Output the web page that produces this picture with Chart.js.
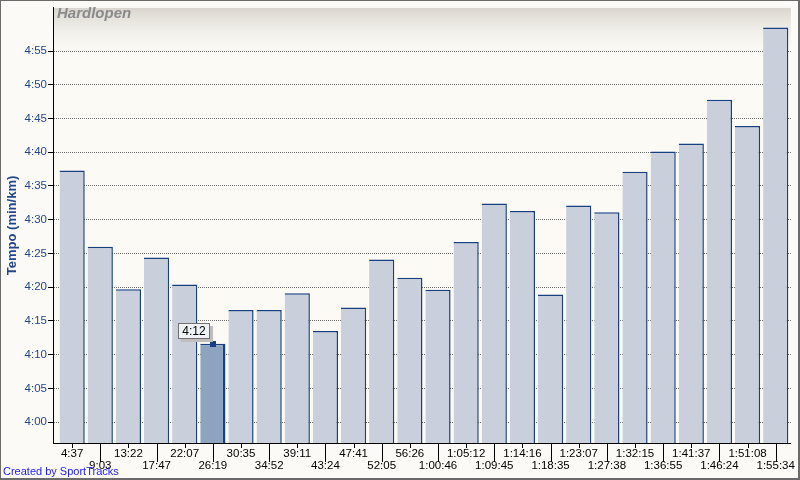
<!DOCTYPE html>
<html>
<head>
<meta charset="utf-8">
<script src="https://cdn.jsdelivr.net/npm/chart.js@4"></script>
<style>
  html, body { margin: 0; padding: 0; background: #fbfaf6; }
  #wrap { position: relative; width: 800px; height: 480px; }
</style>
</head>
<body>
<div id="wrap"><canvas id="pace-chart" width="800" height="480"></canvas></div>
<script>
// elapsed time at the end of each split (x axis labels)
const splitTimes = [
  "4:37", "9:03", "13:22", "17:47", "22:07", "26:19", "30:35", "34:52",
  "39:11", "43:24", "47:41", "52:05", "56:26", "1:00:46", "1:05:12", "1:09:45",
  "1:14:16", "1:18:35", "1:23:07", "1:27:38", "1:32:15", "1:36:55", "1:41:37",
  "1:46:24", "1:51:08", "1:55:34",
];
// pace per split, seconds per km
const paceSeconds = [
  277.3, 266.0, 259.7, 264.4, 260.4, 251.6, 256.6, 256.6, 259.1, 253.5,
  257.0, 264.1, 261.4, 259.6, 266.7, 272.4, 271.3, 258.9, 272.1, 271.1,
  277.1, 280.1, 281.3, 287.8, 283.9, 298.5,
];
// y axis ticks, seconds per km (4:00 .. 4:55)
const paceTicks = [240, 245, 250, 255, 260, 265, 270, 275, 280, 285, 290, 295];
const highlightIndex = 5;

const blue = "#173f82";
const labelBlue = "#23468a";

function fmtPace(s) {
  const m = Math.floor(s / 60);
  const sec = Math.round(s - m * 60);
  return m + ":" + String(sec).padStart(2, "0");
}

const framePlugin = {
  id: "frame",
  beforeDraw(chart) {
    const { ctx, chartArea: a } = chart;
    ctx.save();
    ctx.fillStyle = "#fbfaf6";
    ctx.fillRect(0, 0, chart.width, chart.height);
    ctx.fillStyle = "#fbfaf5";
    ctx.fillRect(a.left, a.top, a.right - a.left, a.bottom - a.top);
    const g = ctx.createLinearGradient(0, a.top, 0, a.top + 52);
    g.addColorStop(0, "#d9d5ce");
    g.addColorStop(1, "rgba(251,250,245,0)");
    ctx.fillStyle = g;
    ctx.fillRect(a.left, a.top, a.right - a.left, 52);
    ctx.restore();
  },
  afterDatasetsDraw(chart) {
    const { ctx, chartArea: a } = chart;
    ctx.save();
    ctx.fillStyle = "#8a8a8a";
    ctx.font = "italic bold 15px 'Liberation Sans', Arial, sans-serif";
    ctx.textBaseline = "alphabetic";
    ctx.fillText("Hardlopen", a.left + 4, 18);

    // highlighted split marker + label
    const bar = chart.getDatasetMeta(0).data[highlightIndex];
    const bx = Math.round(bar.x), by = Math.round(bar.y);
    ctx.fillStyle = blue;
    ctx.fillRect(bx - 3, by - 3, 6, 6);
    const w = 32, h = 16;
    const left = bx - 35, top = by - 21;
    ctx.fillStyle = "#bdbdbd";
    ctx.fillRect(left + 3, top + 3, w, h);
    ctx.fillStyle = "#eff3f6";
    ctx.fillRect(left, top, w, h);
    ctx.strokeStyle = "#707070";
    ctx.lineWidth = 1;
    ctx.strokeRect(left + 0.5, top + 0.5, w - 1, h - 1);
    ctx.fillStyle = "#000";
    ctx.font = "12px 'Liberation Sans', Arial, sans-serif";
    ctx.textAlign = "center";
    ctx.textBaseline = "middle";
    ctx.fillText(fmtPace(paceSeconds[highlightIndex]), left + w / 2, top + h / 2 + 1);
    ctx.restore();
  },
  afterDraw(chart) {
    const { ctx, chartArea: a } = chart;
    const xs = chart.scales.x;
    ctx.save();
    // x tick marks, long ones for the second label row
    ctx.strokeStyle = "#000";
    ctx.lineWidth = 1;
    ctx.beginPath();
    splitTimes.forEach((t, i) => {
      const x = Math.round(xs.getPixelForValue(i + 1)) + 0.5;
      ctx.moveTo(x, a.bottom);
      ctx.lineTo(x, a.bottom + (i % 2 ? 19 : 5));
    });
    ctx.stroke();

    ctx.fillStyle = "#1a1aff";
    ctx.font = "11px 'Liberation Sans', Arial, sans-serif";
    ctx.textBaseline = "middle";
    ctx.fillText("Created by SportTracks", 3, 472);

    // window frame
    ctx.fillStyle = "#6b6b6b";
    ctx.fillRect(0, 0, chart.width, 1);
    ctx.fillRect(0, 0, 1, chart.height);
    ctx.fillRect(chart.width - 2, 0, 2, chart.height);
    ctx.fillRect(0, chart.height - 2, chart.width, 2);
    ctx.restore();
  },
};

const ctx = document.getElementById("pace-chart").getContext("2d");
new Chart(ctx, {
  type: "bar",
  data: {
    datasets: [
      {
        label: "Tempo",
        data: paceSeconds.map((v, i) => ({ x: i + 1, y: v })),
        backgroundColor: paceSeconds.map((v, i) => (i === highlightIndex ? "#8ea3bf" : "#c9cfdb")),
        borderColor: blue,
        borderWidth: (c) =>
          c.dataIndex === highlightIndex
            ? { top: 1.5, right: 2.5, left: 0, bottom: 0 }
            : { top: 1.5, right: 1.5, left: 0, bottom: 0 },
        borderSkipped: "bottom",
        barPercentage: 0.895,
        categoryPercentage: 1,
      },
    ],
  },
  options: {
    responsive: false,
    animation: false,
    events: [],
    layout: { padding: { top: 5, right: 5, left: 0, bottom: 0 } },
    plugins: { legend: { display: false }, tooltip: { enabled: false } },
    scales: {
      x: {
        type: "linear",
        offset: false,
        min: 0.32,
        max: 26.54,
        afterBuildTicks: (scale) => {
          scale.ticks = splitTimes.map((t, i) => ({ value: i + 1 }));
        },
        afterFit: (scale) => {
          scale.height = 37;
        },
        grid: { drawOnChartArea: false, drawTicks: false },
        border: { display: true, color: "#000", width: 1 },
        ticks: {
          autoSkip: false,
          maxRotation: 0,
          padding: 5,
          color: "#000",
          font: { family: "'Liberation Sans', Arial, sans-serif", size: 11.5, lineHeight: 1.05 },
          callback: (value, index) => (index % 2 ? ["", splitTimes[index]] : splitTimes[index]),
        },
      },
      y: {
        min: 236.9,
        max: 301.4,
        z: 1,
        afterBuildTicks: (scale) => {
          scale.ticks = paceTicks.map((v) => ({ value: v }));
        },
        afterFit: (scale) => {
          scale.width = 53;
        },
        grid: {
          color: "#6f6f6f",
          lineWidth: 1,
          tickLength: 5,
          tickColor: "#000",
          tickBorderDash: [],
        },
        border: { display: true, color: "#000", width: 1, dash: [1, 1] },
        ticks: {
          padding: 1,
          color: labelBlue,
          font: { family: "'Liberation Sans', Arial, sans-serif", size: 11.5 },
          callback: (v) => fmtPace(v),
        },
        title: {
          display: true,
          text: "Tempo (min/km)",
          color: labelBlue,
          font: { family: "'Liberation Sans', Arial, sans-serif", size: 13, weight: "bold" },
          padding: { top: 5, bottom: 0 },
        },
      },
    },
  },
  plugins: [framePlugin],
});
</script>
</body>
</html>
